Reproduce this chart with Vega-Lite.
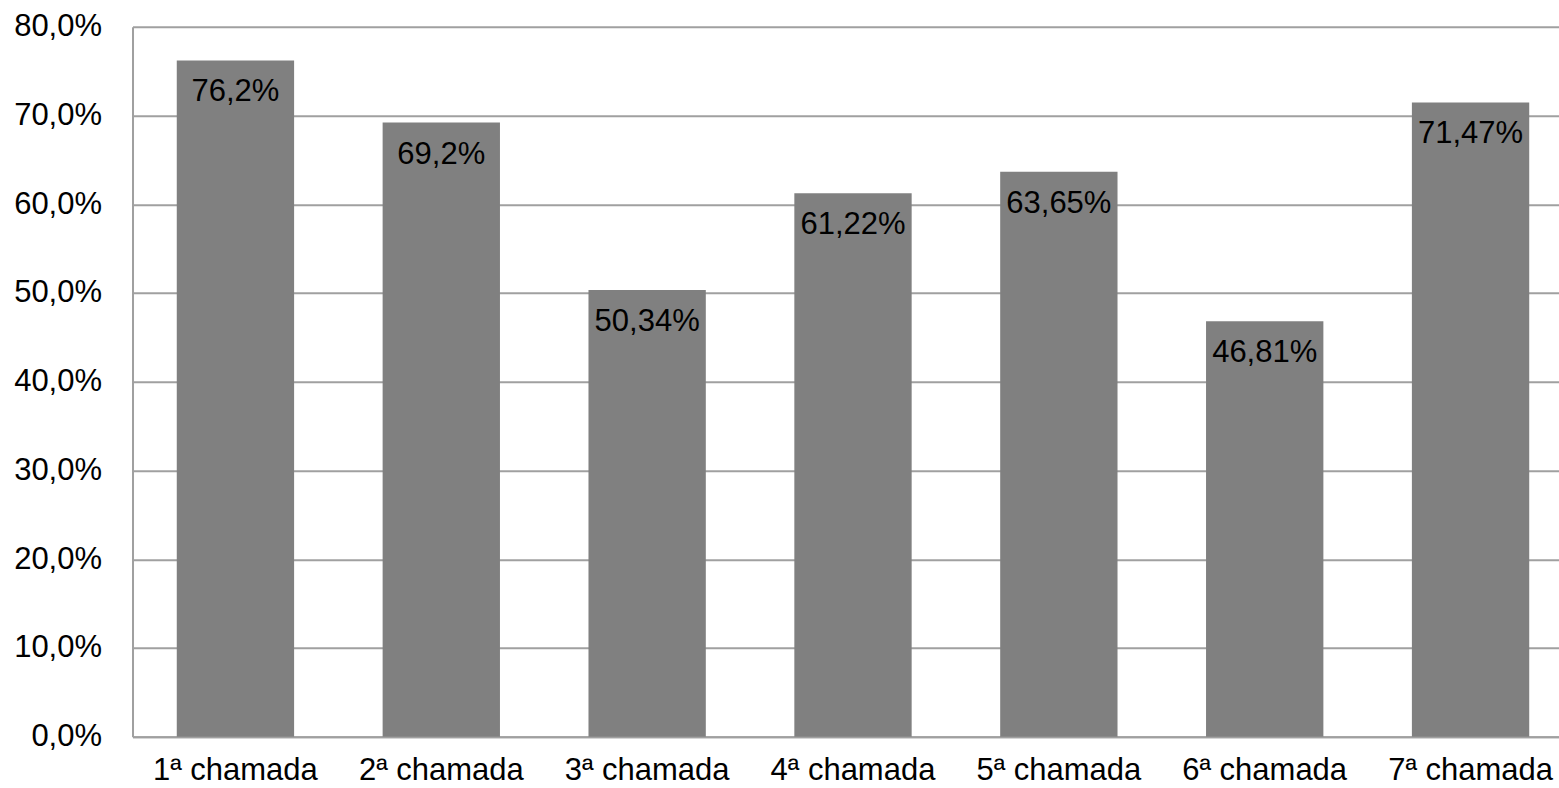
{
  "$schema": "https://vega.github.io/schema/vega-lite/v6.json",
  "autosize": "none",
  "width": 1427,
  "height": 710,
  "padding": {"left": 132.5, "top": 26.7, "right": 0, "bottom": 51},
  "background": "white",
  "config": {
    "view": {"stroke": null},
    "font": "Liberation Sans",
    "axis": {"labelFont": "Liberation Sans", "labelFontSize": 31, "labelColor": "#000000"}
  },
  "data": {
    "values": [
      {"chamada": "1ª chamada", "valor": 76.2, "rotulo": "76,2%"},
      {"chamada": "2ª chamada", "valor": 69.2, "rotulo": "69,2%"},
      {"chamada": "3ª chamada", "valor": 50.34, "rotulo": "50,34%"},
      {"chamada": "4ª chamada", "valor": 61.22, "rotulo": "61,22%"},
      {"chamada": "5ª chamada", "valor": 63.65, "rotulo": "63,65%"},
      {"chamada": "6ª chamada", "valor": 46.81, "rotulo": "46,81%"},
      {"chamada": "7ª chamada", "valor": 71.47, "rotulo": "71,47%"}
    ]
  },
  "encoding": {
    "x": {
      "field": "chamada",
      "type": "nominal",
      "sort": null,
      "scale": {"range": [0, 1441], "paddingInner": 0.43, "paddingOuter": 0.215},
      "axis": {
        "title": null,
        "labelAngle": 0,
        "ticks": false,
        "labelPadding": 19,
        "domainColor": "#a0a0a0",
        "domainWidth": 2,
        "grid": false
      }
    },
    "y": {
      "field": "valor",
      "type": "quantitative",
      "scale": {"domain": [0, 80], "nice": false},
      "axis": {
        "title": null,
        "values": [0, 10, 20, 30, 40, 50, 60, 70, 80],
        "labelExpr": "replace(format(datum.value, '.1f'), '.', ',') + '%'",
        "ticks": false,
        "labelPadding": 31,
        "domainColor": "#a0a0a0",
        "domainWidth": 2,
        "grid": true,
        "gridColor": "#a0a0a0",
        "gridWidth": 2
      }
    }
  },
  "layer": [
    {"mark": {"type": "bar", "color": "#808080"}},
    {
      "mark": {"type": "text", "baseline": "top", "dy": 17, "fontSize": 31, "color": "#000000", "font": "Liberation Sans"},
      "encoding": {"text": {"field": "rotulo"}}
    }
  ]
}
